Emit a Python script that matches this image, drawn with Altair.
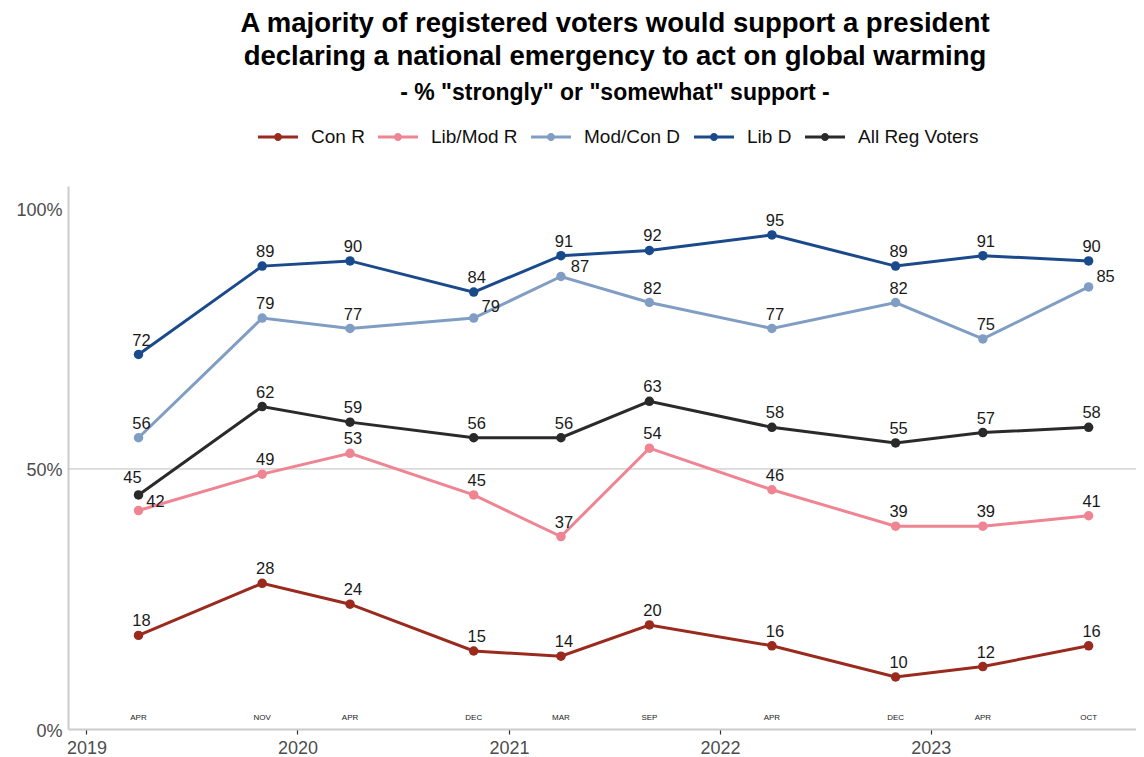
import altair as alt
import pandas as pd

# ---- data ----
dates = ["2019-04-01", "2019-11-01", "2020-04-01", "2020-11-01", "2021-04-01",
         "2021-09-01", "2022-04-01", "2022-11-01", "2023-04-01", "2023-10-01"]
month_labels = ["APR", "NOV", "APR", "DEC", "MAR", "SEP", "APR", "DEC", "APR", "OCT"]

groups = ["Con R", "Lib/Mod R", "Mod/Con D", "Lib D", "All Reg Voters"]
con_r = [18, 28, 24, 15, 14, 20, 16, 10, 12, 16]
lib_mod_r = [42, 49, 53, 45, 37, 54, 46, 39, 39, 41]
mod_con_d = [56, 79, 77, 79, 87, 82, 77, 82, 75, 85]
lib_d = [72, 89, 90, 84, 91, 92, 95, 89, 91, 90]
all_reg = [45, 62, 59, 56, 56, 63, 58, 55, 57, 58]
year_ticks = [2019, 2020, 2021, 2022, 2023]
y_ticks = [0, 50, 100]

colors = ["#9a2a1e", "#ef8492", "#809dc3", "#1a4a8b", "#2a2a2a"]

# label nudges (style, not data)
default_nudge = (3, -14)
special_nudges = {
    ("Lib/Mod R", 0): (17, -9),
    ("All Reg Voters", 0): (-6, -17),
    ("Mod/Con D", 3): (17, -11),
    ("Mod/Con D", 4): (19, -10),
    ("Mod/Con D", 9): (17, -10),
}

series = dict(zip(groups, [con_r, lib_mod_r, mod_con_d, lib_d, all_reg]))
rows = []
for g in groups:
    for i, (d, v) in enumerate(zip(dates, series[g])):
        key = special_nudges.get((g, i), default_nudge)
        rows.append({"group": g, "date": d, "value": v,
                     "nudge": f"{key[0]}_{key[1]}"})
df = pd.DataFrame(rows)
months_df = pd.DataFrame({"date": dates, "month": month_labels})
rule_df = pd.DataFrame({"y": [50]})

FONT = "Liberation Sans"

x_scale = alt.Scale(type="utc",
                    domain=[alt.DateTime(year=2018, month=11, date=30, utc=True),
                            alt.DateTime(year=2023, month=12, date=22, utc=True)])
y_scale = alt.Scale(domain=[0, 104.4], nice=False, zero=True)

x_axis = alt.Axis(values=[alt.DateTime(year=y, month=1, date=1, utc=True) for y in year_ticks],
                  format="%Y", title=None, grid=False,
                  labelFont=FONT, labelFontSize=18, labelColor="#4d4d4d",
                  tickColor="#333333", tickSize=5, tickWidth=1.2,
                  domainColor="#cccccc", domainWidth=2, labelPadding=5)
y_axis = alt.Axis(values=y_ticks, labelExpr="datum.value + '%'", title=None, grid=False,
                  ticks=False, labelFont=FONT, labelFontSize=18, labelColor="#4d4d4d",
                  domainColor="#cccccc", domainWidth=2, labelPadding=6, labelOffset=2)

color_scale = alt.Scale(domain=groups, range=colors)

base = alt.Chart(df)
X = alt.X("date:T", scale=x_scale, axis=x_axis)
Y = alt.Y("value:Q", scale=y_scale, axis=y_axis)

rule = alt.Chart(rule_df).mark_rule(color="#bdbdbd", strokeWidth=1).encode(
    y=alt.Y("y:Q", scale=y_scale)
)

legend_symbol = ("M-1,-0.075L1,-0.075L1,0.075L-1,0.075Z "
                 "M-0.2,0A0.2,0.2,0,1,1,0.2,0A0.2,0.2,0,1,1,-0.2,0Z")

points = base.mark_point(filled=True, size=90, opacity=1).encode(
    x=X, y=Y,
    color=alt.Color("group:N", scale=color_scale, sort=groups,
                    legend=alt.Legend(title=None, orient="none", direction="horizontal",
                                      legendX=190, legendY=-69,
                                      symbolType=legend_symbol, symbolSize=1600,
                                      symbolStrokeWidth=0, symbolOpacity=1,
                                      labelFont=FONT, labelFontSize=19, labelColor="#111111",
                                      labelOffset=13, columnPadding=13)),
)

lines = base.mark_line(strokeWidth=3).encode(
    x=X, y=Y,
    color=alt.Color("group:N", scale=color_scale, sort=groups),
    order=alt.Order("date:T"),
)

text_layers = []
for nudge in df["nudge"].unique():
    dx, dy = (int(v) for v in nudge.split("_"))
    text_layers.append(
        base.transform_filter(alt.datum.nudge == nudge).mark_text(
            dx=dx, dy=dy, font=FONT, fontSize=16.5, color="#1a1a1a",
            baseline="middle", align="center"
        ).encode(x=X, y=Y, text=alt.Text("value:Q", format=".0f"))
    )

month_text = alt.Chart(months_df).mark_text(
    font=FONT, fontSize=8, color="#222222", baseline="middle", align="center"
).encode(x=alt.X("date:T", scale=x_scale), y=alt.value(532), text="month:N")

chart = alt.layer(rule, points, lines, *text_layers, month_text).properties(
    width=1068, height=543,
    autosize=alt.AutoSizeParams(type="none"),
    padding={"left": 60, "top": 178, "right": 0, "bottom": 28},
    title=alt.TitleParams(
        text=["A majority of registered voters would support a president",
              "declaring a national emergency to act on global warming"],
        subtitle='- % "strongly" or "somewhat" support -',
        font=FONT, fontSize=27.5, fontWeight="bold", color="#000000", lineHeight=33,
        subtitleFont=FONT, subtitleFontSize=23, subtitleFontWeight="bold",
        subtitleColor="#000000", subtitlePadding=12,
        anchor="middle", dx=13, offset=12,
    ),
).configure_view(stroke=None)

chart.save("out.html", embed_options={"renderer": "svg", "actions": False})
